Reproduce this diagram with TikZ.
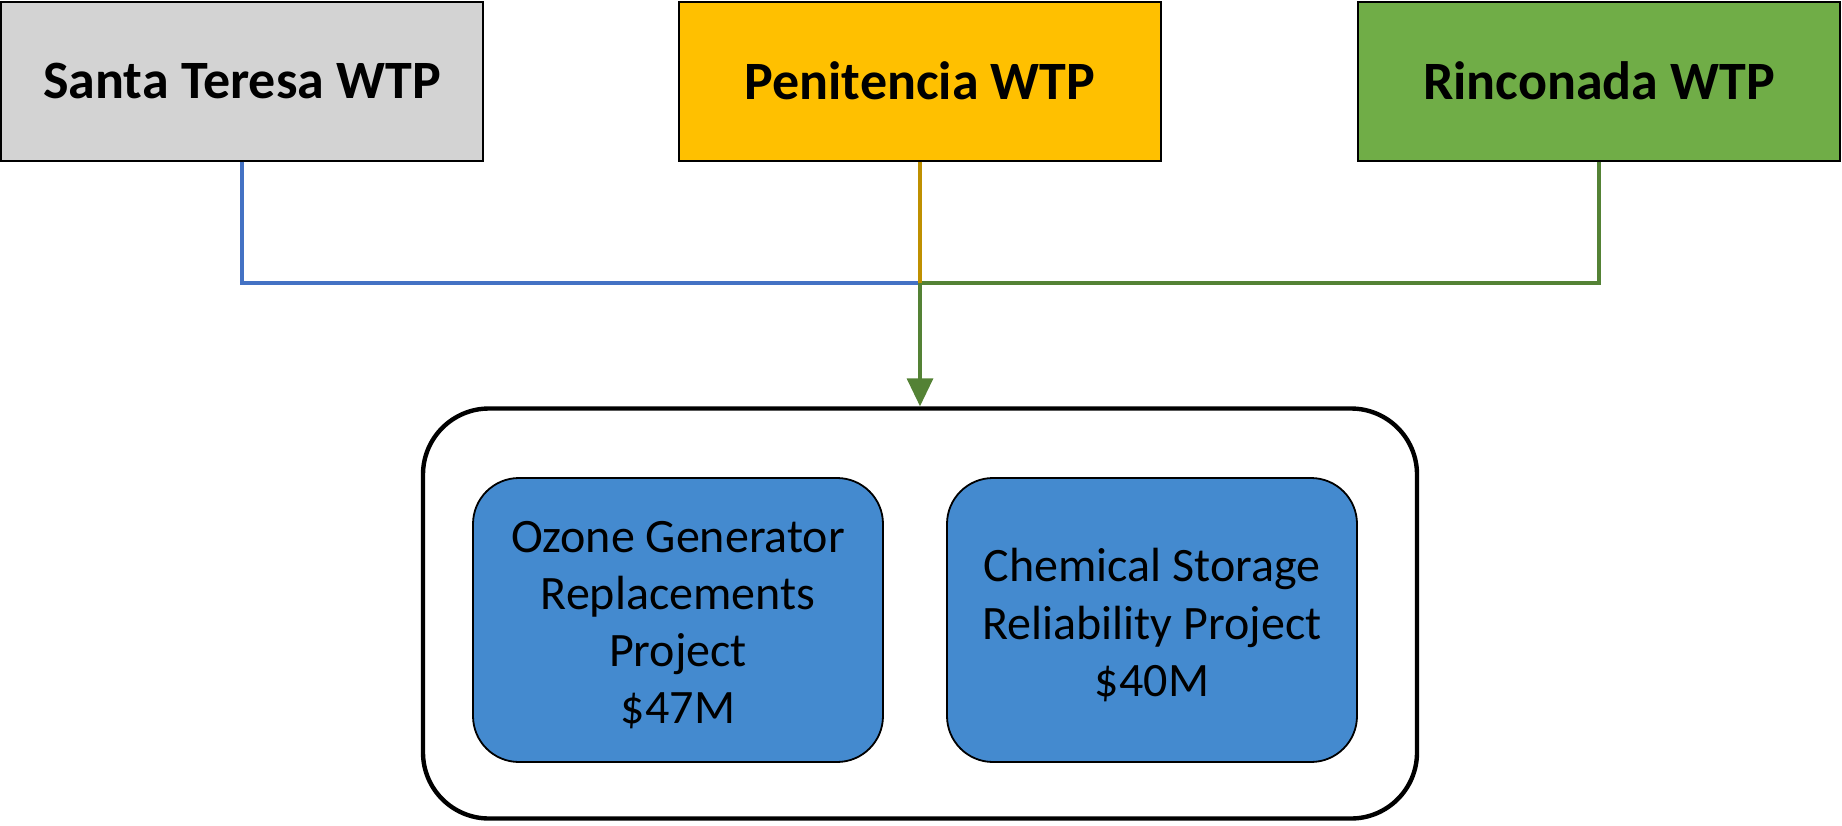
\documentclass[tikz,border=0pt]{standalone}
\usepackage{fontspec}
\setmainfont{Carlito}
\usetikzlibrary{arrows.meta}
\definecolor{boxgray}{HTML}{D3D3D3}
\definecolor{boxgold}{HTML}{FFC000}
\definecolor{boxgreen}{HTML}{70AD47}
\definecolor{projblue}{HTML}{448ACF}
\definecolor{lineblue}{HTML}{4472C4}
\definecolor{linegold}{HTML}{BF9000}
\definecolor{linegreen}{HTML}{548235}
\tikzset{
  plant/.style={draw=black, line width=1pt, minimum width=241pt, minimum height=79.5pt,
    inner sep=0pt, font=\fontsize{27}{32}\selectfont\bfseries},
  proj/.style={draw=black, line width=0.9pt, fill=projblue, rounded corners=23pt,
    minimum width=205pt, minimum height=142pt, inner sep=0pt},
  projtext/.style={inner sep=0pt, align=center, yshift=-2.5pt,
    font=\fontsize{24}{28.6}\selectfont},
  group/.style={draw=black, line width=2.2pt, rounded corners=33pt,
    minimum width=497pt, minimum height=205pt, inner sep=0pt},
  conn/.style={line width=1.7pt},
}
\begin{document}
\begin{tikzpicture}[x=0.5pt, y=-0.5pt]
\useasboundingbox (0,0) rectangle (1842,825);
\node[plant, fill=boxgray] (st) at (242,81) {Santa Teresa WTP};
\node[plant, fill=boxgold] (pe) at (920,81) {Penitencia WTP};
\node[plant, fill=boxgreen] (ri) at (1599,81) {Rinconada WTP};
\node[group] (grp) at (920,613.5) {};
\node[proj, label={[projtext]center:{Ozone Generator\\Replacements\\Project\\\$47M}}] (oz) at (678,620) {};
\node[proj, label={[projtext]center:{Chemical Storage\\Reliability Project\\\$40M}}] (ch) at (1152,620) {};
\coordinate (j) at (920,283);
\draw[conn, lineblue] (st.south) |- (j);
\draw[conn, linegreen] (ri.south) |- (j);
\draw[conn, linegold] (pe.south) -- (j);
\draw[conn, linegreen, -{Triangle[length=14pt, width=13pt]}] (j) -- (grp.north);
\end{tikzpicture}
\end{document}
